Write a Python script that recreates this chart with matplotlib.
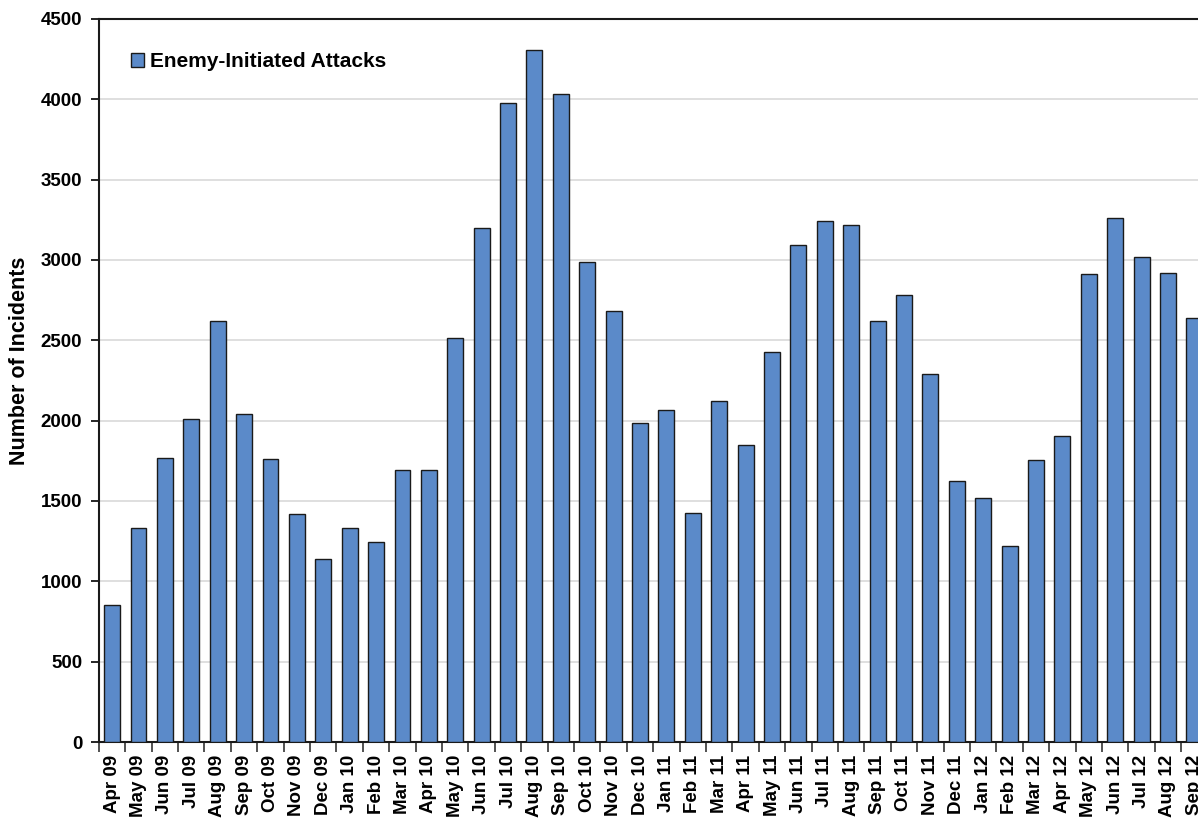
import matplotlib.pyplot as plt
import numpy as np

plt.rcParams['font.family'] = ['Liberation Sans', 'DejaVu Sans']
plt.rcParams['font.weight'] = 'bold'

months = ['Apr 09', 'May 09', 'Jun 09', 'Jul 09', 'Aug 09', 'Sep 09', 'Oct 09', 'Nov 09',
          'Dec 09', 'Jan 10', 'Feb 10', 'Mar 10', 'Apr 10', 'May 10', 'Jun 10', 'Jul 10',
          'Aug 10', 'Sep 10', 'Oct 10', 'Nov 10', 'Dec 10', 'Jan 11', 'Feb 11', 'Mar 11',
          'Apr 11', 'May 11', 'Jun 11', 'Jul 11', 'Aug 11', 'Sep 11', 'Oct 11', 'Nov 11',
          'Dec 11', 'Jan 12', 'Feb 12', 'Mar 12', 'Apr 12', 'May 12', 'Jun 12', 'Jul 12',
          'Aug 12', 'Sep 12']
attacks = [850, 1330, 1770, 2010, 2620, 2040, 1760, 1420,
           1140, 1330, 1245, 1695, 1695, 2515, 3200, 3980,
           4310, 4030, 2985, 2680, 1985, 2066, 1425, 2125,
           1850, 2425, 3095, 3245, 3220, 2620, 2780, 2290,
           1625, 1520, 1220, 1755, 1905, 2910, 3260, 3020,
           2920, 2640]
yticks = list(range(0, 4501, 500))

fig = plt.figure(figsize=(11.98, 8.18), dpi=100)
# plot area runs past the right edge, as in the source image
ax = fig.add_axes([0.0825, 0.0929, 0.9255, 0.8839])

x = np.arange(len(months))
ax.bar(x, attacks, width=0.6, color='#5b8ac9', edgecolor='#1a1a1a', linewidth=1.0,
       label='Enemy-Initiated Attacks', zorder=3)

ax.set_xlim(-0.5, len(months) - 0.5)
ax.set_ylim(0, 4500)
ax.set_yticks(yticks)
ax.set_yticklabels([str(v) for v in yticks], fontsize=13.5, fontweight='bold')
ax.yaxis.grid(True, color='#d9d9d9', linewidth=1.2, zorder=0)

ax.set_xticks(x)
ax.set_xticklabels(months, rotation=90, fontsize=13.5, fontweight='bold')
ax.set_xticks(np.arange(-0.5, len(months)), minor=True)
ax.tick_params(axis='x', which='major', length=0, pad=9)
ax.tick_params(axis='x', which='minor', length=7, width=1.2, color='#333333', direction='out')
ax.tick_params(axis='y', length=6, width=1.2, direction='out', pad=6)

for side in ['left', 'bottom', 'top']:
    ax.spines[side].set_linewidth(1.5)
    ax.spines[side].set_color('#1a1a1a')
ax.spines['right'].set_visible(False)

ax.set_ylabel('Number of Incidents', fontsize=15.5, fontweight='bold')
ax.yaxis.set_label_coords(-0.062, 0.527)

ax.legend(loc='upper left', bbox_to_anchor=(0.012, 0.98), frameon=False,
          prop={'size': 15, 'weight': 'bold'}, handlelength=0.65, handleheight=0.7,
          handletextpad=0.25)

fig.savefig('out.png', dpi=100)
